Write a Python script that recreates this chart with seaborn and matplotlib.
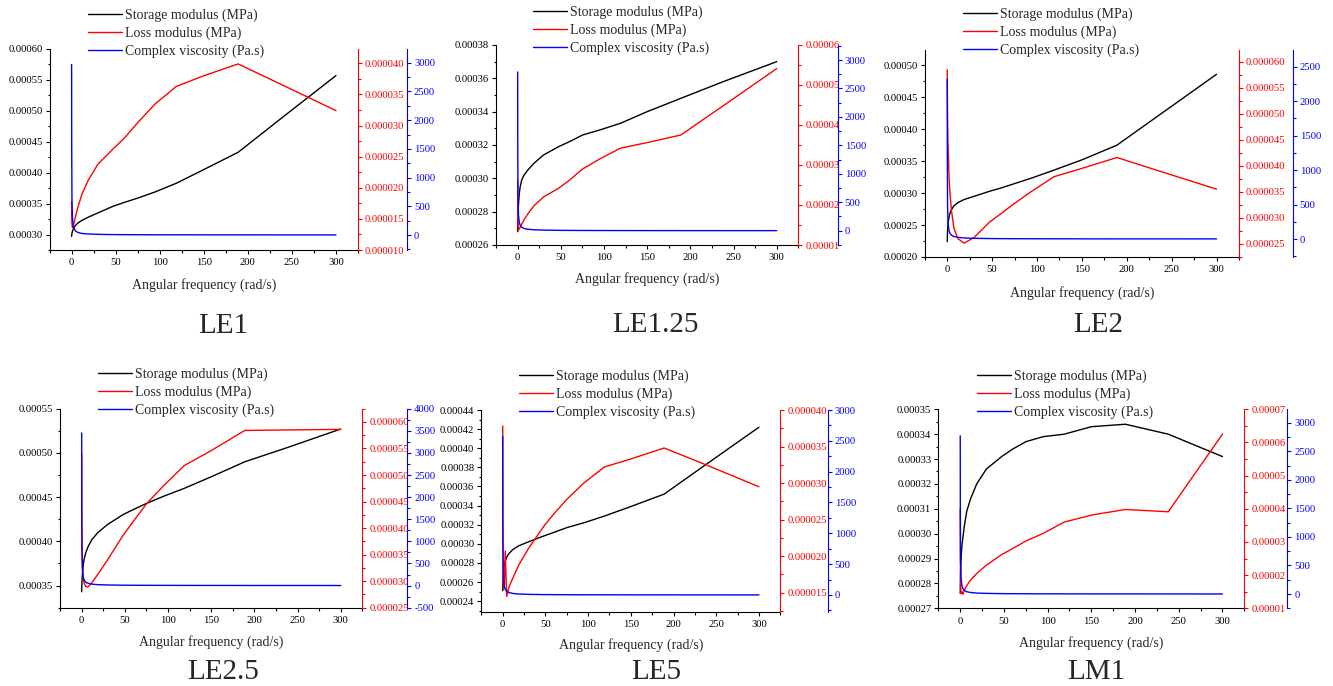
import matplotlib
matplotlib.use('Agg')
import matplotlib.pyplot as plt
import seaborn as sns
from matplotlib.ticker import MultipleLocator, FormatStrFormatter
from matplotlib.lines import Line2D

sns.set_theme(style='ticks')
plt.rcParams['font.family'] = ['Liberation Serif', 'DejaVu Serif']

# ---------------- data ----------------
freq = [0.1, 0.2, 0.5, 1.0, 2.0, 3.0, 4.75, 7.5, 11.9, 18.9, 30.0, 47.5, 60.0,
        75.3, 95.0, 119.0, 150.0, 189.0, 238.0, 300.0]

samples = ['LE1', 'LE1.25', 'LE2', 'LE2.5', 'LE5', 'LM1']

storage_LE1 = [0.000297, 0.000299, 0.000302, 0.000305, 0.000309, 0.000312, 0.000315, 0.000319,
               0.000323, 0.000328, 0.000335, 0.000346, 0.000352, 0.000359, 0.000369, 0.000383,
               0.000405, 0.000433, 0.000488, 0.000557]
loss_LE1 = [1.78e-5, 1.55e-5, 1.42e-5, 1.36e-5, 1.38e-5, 1.45e-5, 1.55e-5, 1.70e-5, 1.90e-5, 2.12e-5,
            2.38e-5, 2.63e-5, 2.80e-5, 3.05e-5, 3.35e-5, 3.63e-5, 3.80e-5, 3.99e-5, 3.66e-5, 3.24e-5]
visc_LE1 = [2970, 1490, 600, 300, 152, 103, 66, 43, 27.5, 17.7, 11.5, 7.6, 6.1, 5.0, 4.1, 3.4,
            2.9, 2.5, 2.3, 2.0]

storage_LE125 = [0.000268, 0.000272, 0.000278, 0.000284, 0.000291, 0.000295, 0.000299, 0.000302,
                 0.000305, 0.000309, 0.000314, 0.000319, 0.000322, 0.000326, 0.000329, 0.000333,
                 0.000340, 0.000348, 0.000358, 0.000370]
loss_LE125 = [2.63e-5, 1.90e-5, 1.50e-5, 1.38e-5, 1.40e-5, 1.45e-5, 1.52e-5, 1.63e-5, 1.78e-5, 1.98e-5,
              2.20e-5, 2.42e-5, 2.62e-5, 2.90e-5, 3.15e-5, 3.42e-5, 3.56e-5, 3.75e-5, 4.48e-5, 5.41e-5]
visc_LE125 = [2790, 1400, 565, 285, 143, 97, 62, 40, 26, 16.5, 10.6, 6.8, 5.5, 4.4, 3.6, 2.9,
              2.4, 1.9, 1.6, 1.3]

storage_LE2 = [0.000224, 0.000232, 0.000243, 0.000252, 0.000262, 0.000268, 0.000274, 0.000280,
               0.000285, 0.000290, 0.000295, 0.000303, 0.000308, 0.000315, 0.000324, 0.000336,
               0.000352, 0.000375, 0.000424, 0.000486]
loss_LE2 = [5.85e-5, 5.50e-5, 4.90e-5, 4.40e-5, 3.85e-5, 3.50e-5, 3.15e-5, 2.80e-5, 2.60e-5, 2.51e-5,
            2.62e-5, 2.92e-5, 3.08e-5, 3.28e-5, 3.52e-5, 3.79e-5, 3.95e-5, 4.16e-5, 3.89e-5, 3.55e-5]
visc_LE2 = [2320, 1160, 470, 240, 125, 85, 56, 37, 24, 15.5, 10, 6.5, 5.2, 4.3, 3.6, 2.9,
            2.4, 2.0, 1.8, 1.7]

storage_LE25 = [0.000343, 0.000348, 0.000356, 0.000364, 0.000374, 0.000380, 0.000387, 0.000394,
                0.000402, 0.000410, 0.000419, 0.000430, 0.000436, 0.000443, 0.000451, 0.000460,
                0.000473, 0.000490, 0.000506, 0.000527]
loss_LE25 = [5.40e-5, 4.30e-5, 3.60e-5, 3.25e-5, 3.05e-5, 2.96e-5, 2.90e-5, 2.89e-5, 2.97e-5, 3.13e-5,
             3.40e-5, 3.85e-5, 4.13e-5, 4.46e-5, 4.80e-5, 5.18e-5, 5.46e-5, 5.84e-5, 5.85e-5, 5.86e-5]
visc_LE25 = [3450, 1740, 700, 360, 185, 125, 80, 52, 33, 21, 14, 9.2, 7.5, 6.0, 4.9, 3.9,
             3.2, 2.6, 2.2, 1.8]

storage_LE5 = [0.000251, 0.000258, 0.000266, 0.000272, 0.000278, 0.000282, 0.000286, 0.000290,
               0.000294, 0.000298, 0.000302, 0.000308, 0.000312, 0.000317, 0.000322, 0.000329,
               0.000339, 0.000352, 0.000383, 0.000422]
loss_LE5 = [3.78e-5, 2.50e-5, 1.65e-5, 1.55e-5, 1.60e-5, 2.07e-5, 1.45e-5, 1.58e-5, 1.70e-5, 1.88e-5,
            2.10e-5, 2.40e-5, 2.58e-5, 2.78e-5, 3.00e-5, 3.22e-5, 3.33e-5, 3.48e-5, 3.25e-5, 2.95e-5]
visc_LE5 = [2570, 1300, 530, 270, 138, 94, 60, 39, 25, 16, 10.3, 6.6, 5.3, 4.3, 3.5, 2.8,
            2.3, 1.9, 1.7, 1.4]

storage_LM1 = [0.000276, 0.000279, 0.000285, 0.000290, 0.000295, 0.000298, 0.000303, 0.000309,
               0.000314, 0.000320, 0.000326, 0.000331, 0.000334, 0.000337, 0.000339, 0.000340,
               0.000343, 0.000344, 0.000340, 0.000331]
loss_LM1 = [4.00e-5, 2.50e-5, 1.70e-5, 1.45e-5, 1.50e-5, 1.42e-5, 1.55e-5, 1.68e-5, 1.85e-5, 2.05e-5,
            2.30e-5, 2.62e-5, 2.80e-5, 3.03e-5, 3.26e-5, 3.60e-5, 3.81e-5, 3.98e-5, 3.91e-5, 6.25e-5]
visc_LM1 = [2770, 1390, 560, 290, 148, 100, 64, 41, 27, 17, 11, 7.0, 5.6, 4.5, 3.6, 2.9,
            2.3, 1.8, 1.4, 1.1]

storage = [storage_LE1, storage_LE125, storage_LE2, storage_LE25, storage_LE5, storage_LM1]
loss = [loss_LE1, loss_LE125, loss_LE2, loss_LE25, loss_LE5, loss_LM1]
visc = [visc_LE1, visc_LE125, visc_LE2, visc_LE25, visc_LE5, visc_LM1]

legend_labels = ['Storage modulus (MPa)', 'Loss modulus (MPa)', 'Complex viscosity (Pa.s)']
xlabel = 'Angular frequency (rad/s)'

# ---------------- layout (pixels) ----------------
W, H = 1333, 686
panels = [
    dict(box=(49.5, 49, 358, 250), yl=(0.000275, 0.0006), sl=(5e-5, 2.5e-5),
         yr=(1e-5, 4.23e-5), sr=(5e-6, 2.5e-6), fr='%.6f', yb=(-261, 3239), off=49,
         leg=(88, 15.7), title=(223, 333.3), xlab=289.3),
    dict(box=(496, 45, 798.3, 245), yl=(0.00026, 0.00038), sl=(2e-5, 1e-5),
         yr=(1e-5, 6e-5), sr=(1e-5, 5e-6), fr='%.5f', yb=(-251, 3264), off=39.4,
         leg=(533, 12.3), title=(655.8, 332.3), xlab=282.7),
    dict(box=(924.7, 50, 1239, 257), yl=(0.0002, 0.000524), sl=(5e-5, 2.5e-5),
         yr=(2.244e-5, 6.23e-5), sr=(5e-6, 2.5e-6), fr='%.6f', yb=(-261, 2742), off=53.7,
         leg=(963, 14.7), title=(1098.3, 331.7), xlab=296.7),
    dict(box=(60, 408.7, 362.3, 607.7), yl=(0.000325, 0.00055), sl=(5e-5, 2.5e-5),
         yr=(2.5e-5, 6.25e-5), sr=(5e-6, 2.5e-6), fr='%.6f', yb=(-500, 4000), off=45,
         leg=(97.7, 374.7), title=(223.3, 679.2), xlab=646),
    dict(box=(481.3, 410, 780.3, 611.7), yl=(0.000229, 0.00044), sl=(2e-5, 1e-5),
         yr=(1.24e-5, 4e-5), sr=(5e-6, 2.5e-6), fr='%.6f', yb=(-271, 3000), off=47.4,
         leg=(519, 376.7), title=(656, 679.2), xlab=649.3),
    dict(box=(938.3, 409.3, 1244.3, 608.3), yl=(0.00027, 0.00035), sl=(1e-5, 5e-6),
         yr=(1e-5, 7e-5), sr=(1e-5, 5e-6), fr='%.5f', yb=(-250, 3235), off=43,
         leg=(976.7, 376.7), title=(1096.7, 679.2), xlab=646.7),
]

fig = plt.figure(figsize=(W / 100, H / 100), dpi=100)
fig.patch.set_facecolor('white')

TICK_FS = 7.7
LW = 1.0


def style_ticks(a, color, axis='y'):
    a.tick_params(axis=axis, which='major', direction='out', length=3, width=0.8,
                  pad=2, labelsize=TICK_FS, color=color, labelcolor=color)
    a.tick_params(axis=axis, which='minor', direction='out', length=1.8, width=0.8,
                  color=color)


for i, p in enumerate(panels):
    l, t, r, b = p['box']
    ax = fig.add_axes([l / W, 1 - b / H, (r - l) / W, (b - t) / H])
    axr = ax.twinx()
    axb = ax.twinx()

    sns.lineplot(x=freq, y=storage[i], ax=ax, color='black', lw=LW, sort=False)
    sns.lineplot(x=freq, y=loss[i], ax=axr, color='red', lw=LW, sort=False)
    sns.lineplot(x=freq, y=visc[i], ax=axb, color='blue', lw=LW, sort=False)

    ax.set_xlim(-25, 325)
    ax.set_ylim(*p['yl'])
    axr.set_ylim(*p['yr'])
    axb.set_ylim(*p['yb'])

    for a in (ax, axr, axb):
        a.set_ylabel('')
        for s in a.spines.values():
            s.set_linewidth(0.8)
    ax.spines['top'].set_visible(False)
    ax.spines['right'].set_visible(False)
    ax.spines['left'].set_color('black')
    ax.spines['bottom'].set_color('black')
    for a, c in ((axr, 'red'), (axb, 'blue')):
        for s in ('top', 'left', 'bottom'):
            a.spines[s].set_visible(False)
        a.spines['right'].set_color(c)
    axb.spines['right'].set_position(('outward', p['off'] * 0.72))

    ax.xaxis.set_major_locator(MultipleLocator(50))
    ax.xaxis.set_minor_locator(MultipleLocator(25))
    ax.yaxis.set_major_locator(MultipleLocator(p['sl'][0]))
    ax.yaxis.set_minor_locator(MultipleLocator(p['sl'][1]))
    ax.yaxis.set_major_formatter(FormatStrFormatter('%.5f'))
    axr.yaxis.set_major_locator(MultipleLocator(p['sr'][0]))
    axr.yaxis.set_minor_locator(MultipleLocator(p['sr'][1]))
    axr.yaxis.set_major_formatter(FormatStrFormatter(p['fr']))
    axb.yaxis.set_major_locator(MultipleLocator(500))
    axb.yaxis.set_minor_locator(MultipleLocator(250))
    axb.yaxis.set_major_formatter(FormatStrFormatter('%d'))

    style_ticks(ax, 'black', 'both')
    style_ticks(axr, 'red')
    style_ticks(axb, 'blue')
    ax.tick_params(axis='x', pad=3)

    ax.set_xlabel(xlabel, fontsize=10)
    ax.xaxis.label.set_va('baseline')
    ax.xaxis.set_label_coords(0.5, (b - p['xlab']) / (b - t))

    handles = [Line2D([], [], color='black', lw=LW),
               Line2D([], [], color='red', lw=LW),
               Line2D([], [], color='blue', lw=LW)]
    hx, hy = p['leg']
    fig.legend(handles, legend_labels, loc='upper left',
               bbox_to_anchor=(hx / W, 1 - (hy - 6.9) / H), frameon=False,
               fontsize=10, handlelength=2.45, handletextpad=0.2, labelspacing=0.33,
               borderpad=0, borderaxespad=0)

    tx, ty = p['title']
    fig.text(tx / W, 1 - ty / H, samples[i], fontsize=21, ha='center', va='baseline')

fig.savefig('out.png', dpi=100, facecolor='white')
